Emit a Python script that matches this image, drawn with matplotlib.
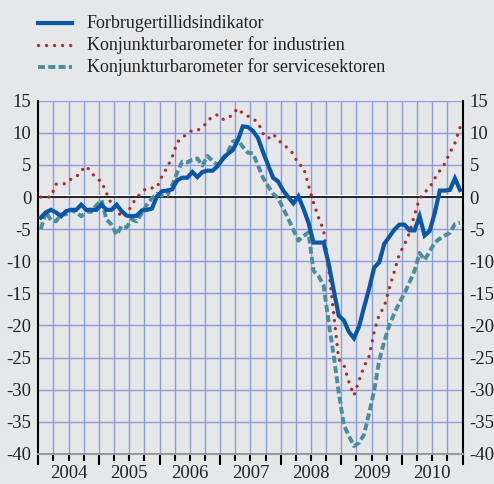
import numpy as np
import matplotlib
matplotlib.use("Agg")
import matplotlib.pyplot as plt
from matplotlib.lines import Line2D
from matplotlib.ticker import MultipleLocator, FixedLocator

# Monthly observations, January 2004 - December 2010
forbruger = [
    -3.2, -2.4, -2.0, -2.4, -3.0, -2.2, -2.0, -2.0, -1.2, -2.0, -2.0, -2.0,
    -1.2, -2.0, -2.0, -1.2, -2.2, -2.9, -3.0, -2.9, -2.1, -2.0, -1.8, 0.1,
    0.9, 1.0, 1.2, 2.6, 3.0, 3.0, 3.9, 3.1, 3.9, 4.1, 4.1, 4.8,
    5.9, 6.7, 7.3, 8.8, 11.0, 10.9, 10.3, 9.2, 7.0, 5.0, 3.0, 2.4,
    1.0, 0.0, -1.0, 0.1, -1.8, -4.0, -7.1, -7.1, -7.1, -10.4, -14.5, -18.5,
    -19.2, -21.0, -22.0, -20.2, -17.2, -14.3, -11.0, -10.2, -7.3, -6.2, -5.1, -4.3,
    -4.3, -5.2, -5.2, -3.0, -6.0, -5.3, -2.5, 1.0, 1.0, 1.1, 2.9, 1.1,
]
industri = [
    0.0, 0.0, 0.0, 2.0, 2.0, 2.1, 2.8, 3.1, 4.1, 4.8, 3.8, 2.9,
    2.4, 0.6, -1.1, -2.0, -3.1, -2.8, -1.2, -0.1, 0.8, 1.4, 1.4, 1.5,
    3.3, 4.6, 6.2, 8.5, 9.3, 9.8, 10.4, 10.4, 10.8, 11.8, 12.6, 12.8,
    12.1, 12.2, 12.9, 13.8, 13.0, 12.6, 12.2, 11.6, 9.9, 9.1, 9.8, 8.9,
    8.1, 7.6, 6.7, 5.1, 4.7, 1.8, -0.9, -3.2, -5.2, -11.2, -18.3, -25.3,
    -26.1, -28.8, -30.9, -28.6, -26.4, -24.8, -21.0, -18.3, -17.1, -14.2, -11.6, -8.9,
    -7.4, -5.6, -2.8, -0.2, 0.7, 1.5, 2.9, 4.1, 5.2, 6.9, 8.4, 10.8,
]
service = [
    -5.0, -2.3, -3.6, -3.8, -2.7, -2.7, -2.0, -2.4, -3.0, -2.3, -2.3, -1.3,
    -0.5, -3.5, -4.3, -5.9, -4.5, -4.7, -3.5, -3.8, -2.5, -1.2, -0.2, 0.5,
    0.2, 0.2, 1.8, 3.8, 5.5, 5.4, 5.8, 6.0, 4.9, 6.4, 5.6, 5.0,
    6.0, 7.0, 8.6, 8.9, 7.8, 6.9, 6.8, 4.9, 3.0, 1.7, 0.5, -0.2,
    -1.8, -3.4, -5.1, -6.8, -6.1, -5.5, -11.5, -12.3, -13.8, -19.5, -24.7, -30.5,
    -35.5, -37.2, -38.8, -38.3, -37.0, -33.7, -30.2, -25.5, -22.5, -20.0, -18.1, -16.5,
    -15.0, -13.3, -11.5, -8.7, -9.8, -8.5, -7.1, -6.5, -6.0, -5.6, -4.2, -4.0,
]
years = [2004, 2005, 2006, 2007, 2008, 2009, 2010]
series_names = [
    "Forbrugertillidsindikator",
    "Konjunkturbarometer for industrien",
    "Konjunkturbarometer for servicesektoren",
]

BG = "#e6e7e9"
GRID = "#8d9ed9"
BLUE = "#0b57a4"
RED = "#b32a26"
TEAL = "#4b8c9d"
FONT = "Liberation Serif"

DOTS = (0, (0.01, 2.4))
DASHES = (0, (1.8, 0.85))

plt.rcParams["font.family"] = FONT

fig = plt.figure(figsize=(4.94, 4.84), dpi=100, facecolor=BG)
W, H = 494.0, 484.0
x0, x1, ytop, ybot = 38.3, 462.5, 100.7, 453.8
ax = fig.add_axes([x0 / W, 1 - ybot / H, (x1 - x0) / W, (ybot - ytop) / H])
ax.set_facecolor(BG)

n_months = len(forbruger)
months = np.arange(n_months) + 0.5

ax.set_xlim(0, 12 * len(years))
ax.set_ylim(-40, 15)

# grid: quarterly verticals, every 5 points horizontally
for q in range(3, 12 * len(years), 3):
    ax.axvline(q, color=GRID, lw=1.0, zorder=1)
for v in range(-35, 16, 5):
    if v != 0:
        ax.axhline(v, color=GRID, lw=1.0, zorder=1)
ax.axhline(0.22, color="white", lw=1.4, zorder=2)
ax.axhline(0, color="black", lw=1.2, zorder=2)

ax.plot(months, industri, color=RED, lw=2.4, linestyle=DOTS,
        dash_capstyle="round", zorder=4)
ax.plot(months, service, color=TEAL, lw=2.8, linestyle=DASHES,
        dash_capstyle="butt", zorder=3)
ax.plot(months, forbruger, color=BLUE, lw=3.0, solid_joinstyle="miter", zorder=5)

ax.spines["top"].set_visible(False)
for side in ("left", "right"):
    ax.spines[side].set_color("black")
    ax.spines[side].set_linewidth(1.5)
ax.spines["bottom"].set_color("#9a9a9a")
ax.spines["bottom"].set_linewidth(1.5)

ax.set_yticks(range(-40, 16, 5))
ax.set_yticklabels([str(v) for v in range(-40, 16, 5)])
ax.tick_params(axis="y", which="both", length=0, labelleft=True, labelright=True,
               labelsize=13.5, pad=5, colors="#222222")

ax.xaxis.set_major_locator(FixedLocator([12 * k for k in range(len(years) + 1)]))
ax.xaxis.set_minor_locator(MultipleLocator(3))
ax.tick_params(axis="x", which="major", length=8, width=1.5, color="black",
               labelbottom=False, direction="out")
ax.tick_params(axis="x", which="minor", length=5, width=1.5, color="black",
               direction="out")

for k, yr in enumerate(years):
    ax.text(12 * k + 6, -41.8, str(yr), ha="center", va="top", fontsize=13.5,
            color="#222222")

# legend
rows = [(23.3, BLUE, "-", 3.0, None), (45.0, RED, DOTS, 2.4, "round"),
        (66.7, TEAL, DASHES, 2.8, "butt")]
for (yy, col, ls, lw, cap), name in zip(rows, series_names):
    ln = Line2D([38 / W, 72 / W], [1 - yy / H, 1 - yy / H], transform=fig.transFigure,
                color=col, lw=lw, linestyle=ls)
    if cap:
        ln.set_dash_capstyle(cap)
    fig.add_artist(ln)
    fig.text(87 / W, 1 - yy / H, name, ha="left", va="center", fontsize=13,
             color="#222222")

fig.savefig("out.png", dpi=100, facecolor=BG)
